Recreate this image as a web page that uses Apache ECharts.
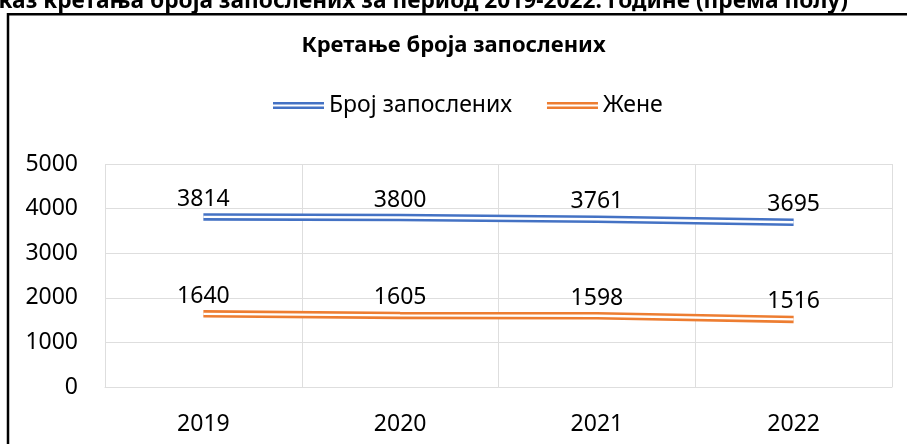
<!DOCTYPE html>
<html>
<head>
<meta charset="utf-8">
<script src="https://cdn.jsdelivr.net/npm/echarts@6/dist/echarts.min.js"></script>
<style>
  html, body { margin: 0; padding: 0; background: #fff; }
  #main { width: 907px; height: 444px; }
</style>
</head>
<body>
<div id="main"></div>
<script>
// podaci sa grafikona
var years = ['2019', '2020', '2021', '2022'];
var totalEmployed = [3814, 3800, 3761, 3695];
var women = [1640, 1605, 1598, 1516];
var seriesNames = ['Број запослених', 'Жене'];
var chartTitle = 'Кретање броја запослених';
var pageCaption = 'Приказ кретања броја запослених за период 2019-2022. године (према полу)';

var FONT = '"Noto Sans", sans-serif';
var blue = '#4472C4';
var orange = '#ED7D31';
var gridColor = '#dedede';

// dvostruka linija kao u Excelu: debela linija + bela linija preko
var doubleIcon = 'path://M0,0H51V2.4H0Z M0,4.6H51V7H0Z';

function mainLine(name, data, color) {
  return {
    name: name,
    type: 'line',
    data: data,
    color: color,
    symbol: 'circle',
    symbolSize: 0,
    showSymbol: true,
    lineStyle: { width: 7.5, color: color, cap: 'butt' },
    label: {
      show: true,
      position: 'top',
      distance: 6,
      color: '#000',
      fontFamily: FONT,
      fontSize: 23
    },
    emphasis: { disabled: true },
    z: 2
  };
}

function innerLine(name, data) {
  return {
    name: name,
    type: 'line',
    data: data,
    symbol: 'none',
    silent: true,
    lineStyle: { width: 2.4, color: '#fff', cap: 'butt' },
    emphasis: { disabled: true },
    z: 3
  };
}

var myChart = echarts.init(document.getElementById('main'));
var option = {
  animation: false,
  backgroundColor: '#fff',
  title: {
    text: chartTitle,
    left: 'center',
    top: 35,
    padding: 0,
    textStyle: { fontFamily: FONT, fontWeight: 'bold', fontSize: 22, color: '#000' }
  },
  legend: {
    data: seriesNames,
    left: 273,
    top: 94,
    padding: 0,
    itemWidth: 51,
    itemHeight: 7,
    itemGap: 35,
    icon: doubleIcon,
    itemStyle: { borderWidth: 0 },
    textStyle: { fontFamily: FONT, fontSize: 23, color: '#000' }
  },
  graphic: [
    {
      type: 'text',
      right: 907 - 848,
      top: -10,
      style: {
        text: pageCaption,
        font: 'bold 22.7px ' + FONT,
        fill: '#000'
      },
      z: 10
    },
    {
      type: 'rect',
      shape: { x: 8, y: 14.2, width: 1000, height: 1000 },
      style: { fill: 'none', stroke: '#000', lineWidth: 2.5 },
      z: 10
    }
  ],
  grid: { left: 105, right: 15, top: 164, bottom: 57 },
  xAxis: {
    type: 'category',
    data: years,
    boundaryGap: true,
    axisLine: { lineStyle: { color: gridColor, width: 1 } },
    axisTick: { show: false },
    splitLine: { show: true, lineStyle: { color: gridColor, width: 1 } },
    axisLabel: { margin: 26, color: '#000', fontFamily: FONT, fontSize: 23 }
  },
  yAxis: {
    type: 'value',
    min: 0,
    max: 5000,
    interval: 1000,
    axisLine: { show: false },
    axisTick: { show: false },
    splitLine: { lineStyle: { color: gridColor, width: 1 } },
    axisLabel: {
      margin: 27,
      color: '#000',
      fontFamily: FONT,
      fontSize: 23,
      formatter: function (v) { return String(v); }
    }
  },
  series: [
    mainLine(seriesNames[0], totalEmployed, blue),
    innerLine('inner-1', totalEmployed),
    mainLine(seriesNames[1], women, orange),
    innerLine('inner-2', women)
  ]
};
myChart.setOption(option);
</script>
</body>
</html>
